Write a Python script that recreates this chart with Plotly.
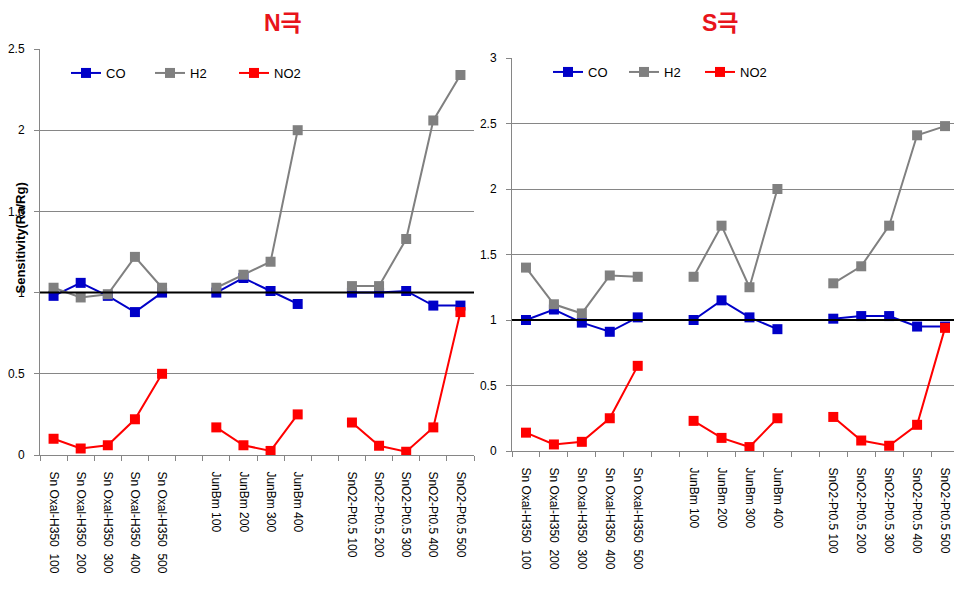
import plotly.graph_objects as go

# categories (blank slots separate the three sample groups)
categories = [
    "Sn Oxal-H350  100", "Sn Oxal-H350  200", "Sn Oxal-H350  300",
    "Sn Oxal-H350  400", "Sn Oxal-H350  500", " ",
    "JunBm 100", "JunBm 200", "JunBm 300", "JunBm 400", "  ",
    "SnO2-Pt0.5 100", "SnO2-Pt0.5 200", "SnO2-Pt0.5 300",
    "SnO2-Pt0.5 400", "SnO2-Pt0.5 500",
]

# N극
n_co = [0.98, 1.06, 0.98, 0.88, 1.00, None, 1.00, 1.09, 1.01, 0.93, None,
        1.00, 1.00, 1.01, 0.92, 0.92]
n_h2 = [1.03, 0.97, 0.99, 1.22, 1.03, None, 1.03, 1.11, 1.19, 2.00, None,
        1.04, 1.04, 1.33, 2.06, 2.34]
n_no2 = [0.10, 0.04, 0.06, 0.22, 0.50, None, 0.17, 0.06, 0.025, 0.25, None,
         0.20, 0.057, 0.02, 0.17, 0.88]

# S극
s_co = [1.00, 1.08, 0.98, 0.91, 1.02, None, 1.00, 1.15, 1.02, 0.93, None,
        1.01, 1.03, 1.03, 0.95, 0.95]
s_h2 = [1.40, 1.12, 1.05, 1.34, 1.33, None, 1.33, 1.72, 1.25, 2.00, None,
        1.28, 1.41, 1.72, 2.41, 2.48]
s_no2 = [0.14, 0.05, 0.07, 0.25, 0.65, None, 0.23, 0.10, 0.03, 0.25, None,
         0.26, 0.08, 0.04, 0.20, 0.94]

series_names = ["CO", "H2", "NO2"]
colors = ["#0000C8", "#808080", "#FF0000"]

FONT = "Liberation Sans, Arial, Noto Sans CJK KR"
# page body has an 8px margin, so the figure is placed at (8, 8)
OFF = 8
W, H = 962 - OFF, 596 - OFF

fig = go.Figure()

for vals, name, col in zip([n_co, n_h2, n_no2], series_names, colors):
    fig.add_trace(go.Scatter(
        x=categories, y=vals, name=name, mode="lines+markers",
        line=dict(color=col, width=2),
        marker=dict(symbol="square", size=10, color=col),
        xaxis="x", yaxis="y", legend="legend",
    ))

for vals, name, col in zip([s_co, s_h2, s_no2], series_names, colors):
    fig.add_trace(go.Scatter(
        x=categories, y=vals, name=name, mode="lines+markers",
        line=dict(color=col, width=2),
        marker=dict(symbol="square", size=10, color=col),
        xaxis="x2", yaxis="y2", legend="legend2",
    ))


def px_x(p):
    return (p - OFF) / W


def px_y(p):
    return (H - (p - OFF)) / H


xaxis_style = dict(
    type="category", categoryorder="array", categoryarray=categories,
    range=[-0.5, 15.5], tickson="boundaries", ticks="outside", ticklen=5,
    tickcolor="#868686", showline=True, linecolor="#868686", linewidth=1,
    showgrid=False, tickangle=90, ticklabelstandoff=13,
    tickfont=dict(family=FONT, size=12, color="black"), automargin=False,
)
yaxis_style = dict(
    ticks="outside", ticklen=5, tickcolor="#868686", showline=True,
    linecolor="#868686", linewidth=1, showgrid=True, gridcolor="#868686",
    gridwidth=1, zeroline=False, tickfont=dict(family=FONT, size=12, color="black"),
    automargin=False, ticklabelstandoff=7,
)

fig.update_layout(
    width=W, height=H,
    margin=dict(l=0, r=0, t=0, b=0),
    paper_bgcolor="white", plot_bgcolor="white",
    xaxis=dict(domain=[px_x(40), px_x(474)], anchor="y", **xaxis_style),
    yaxis=dict(domain=[px_y(455), px_y(49)], anchor="x", range=[0, 2.5],
               dtick=0.5, **yaxis_style),
    xaxis2=dict(domain=[px_x(512), px_x(959)], anchor="y2", **xaxis_style),
    yaxis2=dict(domain=[px_y(451), px_y(58)], anchor="x2", range=[0, 3],
                dtick=0.5, **yaxis_style),
    legend=dict(orientation="h", x=px_x(66), y=px_y(73), xanchor="left",
                yanchor="middle", itemwidth=30, entrywidth=39,
                font=dict(family=FONT, size=13, color="black"),
                bgcolor="rgba(0,0,0,0)"),
    legend2=dict(orientation="h", x=px_x(548), y=px_y(72), xanchor="left",
                 yanchor="middle", itemwidth=30, entrywidth=31,
                 font=dict(family=FONT, size=13, color="black"),
                 bgcolor="rgba(0,0,0,0)"),
    showlegend=True,
)

# reference line at sensitivity = 1
for xr, yr in [("x", "y"), ("x2", "y2")]:
    fig.add_shape(type="line", xref=f"{xr} domain", yref=yr, x0=0, x1=1,
                  y0=1, y1=1, line=dict(color="black", width=2))

fig.add_annotation(text="<b>N극</b>", xref="paper", yref="paper",
                   x=px_x(262), y=px_y(8), showarrow=False,
                   font=dict(family=FONT, size=23, color="#E8141B"))
fig.add_annotation(text="<b>S극</b>", xref="paper", yref="paper",
                   x=px_x(741), y=px_y(8), showarrow=False,
                   font=dict(family=FONT, size=23, color="#E8141B"))
fig.add_annotation(text="<b>Sensitivity(Ra/Rg)</b>", xref="paper", yref="paper",
                   x=px_x(11), y=px_y(238), showarrow=False,
                   textangle=-90, borderpad=0,
                   font=dict(family=FONT, size=13, color="black"))

fig.write_html("out.html")
